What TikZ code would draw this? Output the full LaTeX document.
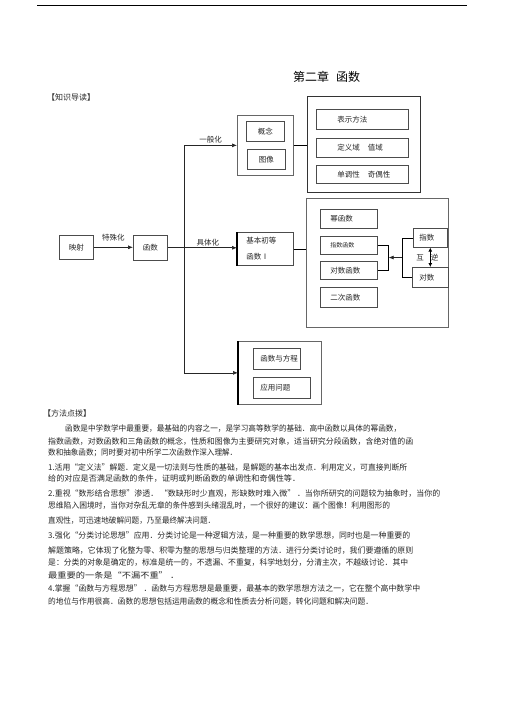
\documentclass[tikz,border=0pt]{standalone}
\usepackage{fontspec}
\usepackage{graphicx}
\usetikzlibrary{arrows.meta}
\newfontfamily\cjk{Noto Sans CJK SC}
\newcommand\lft[2]{\makebox[#1pt][l]{#2}}
\newcommand\fitline[2]{\resizebox{#1pt}{\height}{#2}}

\begin{document}
\begin{tikzpicture}[x=1pt,y=-1pt,
    box/.style={draw=black!70, line width=.6pt, inner sep=0pt, anchor=north west,
      font=\cjk\fontsize{7.5}{9}\selectfont, text=black!85},
    outer/.style={box, draw=black!60, line width=.7pt},
    arr/.style={-{Latex[length=5pt,width=4pt]}, line width=.7pt, draw=black!85},
    lbl/.style={font=\cjk\fontsize{7.5}{9}\selectfont, text=black!85, inner sep=1pt},
    txt/.style={anchor=west, inner sep=0pt, font=\cjk\fontsize{8}{8}\selectfont, text=black!85}]
  \useasboundingbox (0,0) rectangle (505,714);
  \draw[line width=1pt] (37,6) -- (467,6);

  \node[anchor=west, inner sep=0pt, font=\cjk\fontsize{12}{12}\selectfont] (title) at (293,77) {第二章\hspace{7pt}函数};
  \node[txt] (guide) at (47,97) {【知识导读】};

  % left chain
  \node[box, minimum width=34, minimum height=24] (ys) at (59,235) {映射};
  \node[box, minimum width=34, minimum height=25] (fn) at (133,235) {函数};
  \node[box, minimum width=56, minimum height=33, text width=38pt, align=left,
    font=\cjk\fontsize{7.5}{16}\selectfont] (basic) at (237,232) {基本初等\\函数Ⅰ};

  % generalisation
  \node[outer, minimum width=56, minimum height=60] (gen) at (237,115) {};
  \node[box, minimum width=38, minimum height=20] (gn) at (246,121) {概念};
  \node[box, minimum width=38, minimum height=20] (tx) at (247,149) {图像};
  \node[outer, draw=black!80, line width=1.1pt, minimum width=113, minimum height=96] (props) at (307,96) {};
  \node[box, minimum width=92, minimum height=20] (repr) at (316,109) {\lft{50}{表示方法}};
  \node[box, minimum width=92, minimum height=19] (dom) at (316,138) {\lft{50}{定义域\hspace{8pt}值域}};
  \node[box, minimum width=92, minimum height=18] (mono) at (316,165) {\lft{50}{单调性\hspace{8pt}奇偶性}};

  % elementary functions
  \node[outer, minimum width=142, minimum height=129] (elem) at (306,198) {};
  \node[box, minimum width=57, minimum height=19] (pw) at (320,209) {\lft{37}{幂函数}};
  \node[box, minimum width=57, minimum height=18, font=\cjk\fontsize{6}{6}\selectfont] (expf) at (320,236) {\lft{37}{指数函数}};
  \node[box, minimum width=57, minimum height=18] (logf) at (320,261) {\lft{37}{对数函数}};
  \node[box, minimum width=57, minimum height=20] (quad) at (320,287) {\lft{37}{二次函数}};
  \node[box, minimum width=34, minimum height=19] (zs) at (413,228) {\lft{22}{指数}};
  \node[box, minimum width=36, minimum height=20] (ds) at (412,267) {\lft{22}{对数}};

  % applications
  \node[outer, minimum width=83, minimum height=63] (app) at (238,341) {};
  \node[box, minimum width=47, minimum height=21] (eq) at (253,348) {\lft{33}{函数与方程}};
  \node[box, minimum width=57, minimum height=21] (use) at (253,377) {\lft{43}{应用问题}};

  \draw[line width=1.6pt] (basic.north west) -- (basic.south west);
  \draw[line width=1.6pt] (app.north west) -- (app.south west);

  % connectors
  \draw[arr] (ys.east) -- node[lbl, above=5pt] {特殊化} (ys.east -| fn.west);
  \draw[arr] (fn.east) -- node[lbl, above, pos=.58] {具体化} (fn.east -| basic.west);
  \coordinate (spine) at (184,247);
  \draw[line width=.7pt, draw=black!85] (spine |- gen.west) -- (spine |- app.west);
  \draw[arr] (spine |- gen.west) -- node[lbl, above=1pt] {一般化} (gen.west);
  \draw[arr] (spine |- app.west) -- (app.west);
  \draw[line width=.6pt] (gen.east) -- (gen.east -| props.west);
  \draw[line width=.6pt] (basic.east) -- (basic.east -| elem.west);

  \draw[line width=.6pt] (expf.east) -- ++(11,0) coordinate (lb1) -- (lb1 |- logf.east) coordinate (lb2) -- (logf.east);
  \draw[line width=.6pt] (zs.west) -- ++(-11,0) coordinate (rb1) -- (rb1 |- ds.west) coordinate (rb2) -- (ds.west);
  \path (lb1) -- (lb2) coordinate[midway] (lbm);
  \path (rb1) -- (rb2) coordinate[midway] (rbm);
  \draw[arr] (rbm) -- (rbm -| lbm);
  \draw[{Latex[length=4pt,width=4pt]}-{Latex[length=4pt,width=4pt]}, line width=1.2pt]
    (zs.south) -- node[lbl, xshift=-3pt] {互\hspace{7pt}逆} (ds.north);

  % method notes
  \node[txt] (method) at (43,413) {【方法点拨】};
  \node[txt] (p1) at (65,429) {\fitline{336}{函数是中学数学中最重要，最基础的内容之一，是学习高等数学的基础．高中函数以具体的幂函数，}};
  \node[txt] (p2) at (48,441) {\fitline{365}{指数函数，对数函数和三角函数的概念，性质和图像为主要研究对象，适当研究分段函数，含绝对值的函}};
  \node[txt] (p3) at (48,453) {\fitline{189}{数和抽象函数；同时要对初中所学二次函数作深入理解．}};
  \node[txt] (p4) at (48,468) {\fitline{359}{1.活用“定义法”解题．定义是一切法则与性质的基础，是解题的基本出发点．利用定义，可直接判断所}};
  \node[txt] (p5) at (48,479) {\fitline{252}{给的对应是否满足函数的条件，证明或判断函数的单调性和奇偶性等．}};
  \node[txt] (p6) at (48,494) {\fitline{392}{2.重视“数形结合思想”渗透． “数缺形时少直观，形缺数时难入微” ．当你所研究的问题较为抽象时，当你的}};
  \node[txt] (p7) at (48,506) {\fitline{342}{思维陷入困境时，当你对杂乱无章的条件感到头绪混乱时，一个很好的建议：画个图像！利用图形的}};
  \node[txt] (p8) at (48,521) {\fitline{167}{直观性，可迅速地破解问题，乃至最终解决问题．}};
  \node[txt] (p9) at (48,536) {\fitline{362}{3.强化“分类讨论思想”应用．分类讨论是一种逻辑方法，是一种重要的数学思想，同时也是一种重要的}};
  \node[txt] (p10) at (48,551) {\fitline{365}{解题策略，它体现了化整为零、积零为整的思想与归类整理的方法．进行分类讨论时，我们要遵循的原则}};
  \node[txt] (p11) at (48,563) {\fitline{360}{是：分类的对象是确定的，标准是统一的，不遗漏、不重复，科学地划分，分清主次，不越级讨论．其中}};
  \node[txt] (p12) at (48,575) {\fitline{131}{最重要的一条是“不漏不重” ．}};
  \node[txt] (p13) at (48,589) {\fitline{372}{4.掌握“函数与方程思想” ．函数与方程思想是最重要，最基本的数学思想方法之一，它在整个高中数学中}};
  \node[txt] (p14) at (48,601) {\fitline{325}{的地位与作用很高．函数的思想包括运用函数的概念和性质去分析问题，转化问题和解决问题．}};
\end{tikzpicture}
\end{document}
